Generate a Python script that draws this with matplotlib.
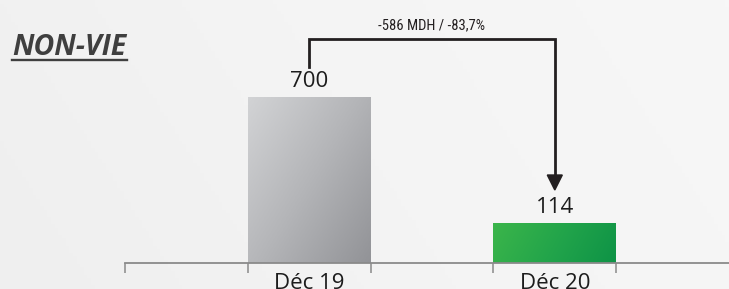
import numpy as np
import matplotlib
matplotlib.use("Agg")
import matplotlib.pyplot as plt
from matplotlib.patches import Polygon
from matplotlib.colors import LinearSegmentedColormap
from matplotlib import font_manager as fm

# ---------------- data ----------------
title = "NON-VIE"
slots = ["", "Déc 19", "", "Déc 20", ""]      # category slots on the x axis
bar_slots = [1, 3]
values = [700, 114]
unit = "MDH"
axis_base = -72                                # value at the axis line

W, H, DPI = 729, 289, 100
fig = plt.figure(figsize=(W / DPI, H / DPI), dpi=DPI)

# background gradient
bg = fig.add_axes([0, 0, 1, 1], zorder=-10)
bg.set_axis_off()
gx = np.linspace(0, 1, 200)
gy = np.linspace(0, 1, 80)
GX, GY = np.meshgrid(gx, gy)
bgcm = LinearSegmentedColormap.from_list("bg", ["#efefef", "#f4f4f4", "#f7f7f7"])
bg.imshow((GX * 0.8 + (1 - GY) * 0.2), cmap=bgcm, aspect="auto", extent=[0, 1, 0, 1])

# main axes (pixel placement)
ax_left, ax_right, ax_axis_y = 125, 739, 263
ax = fig.add_axes([ax_left / W, (H - ax_axis_y) / H, (ax_right - ax_left) / W, ax_axis_y / H])
ax.patch.set_alpha(0)
px_per_unit = 166 / (values[0] - axis_base)
ymax = axis_base + ax_axis_y / px_per_unit
ax.set_xlim(-0.5, len(slots) - 0.5)
ax.set_ylim(axis_base, ymax)

for s in ["top", "right", "left"]:
    ax.spines[s].set_visible(False)
ax.spines["bottom"].set_color("#8a8a8a")
ax.spines["bottom"].set_linewidth(1.3)
ax.yaxis.set_visible(False)

ax.set_xticks(range(len(slots)))
ax.set_xticklabels(slots, fontsize=16, family="Open Sans", color="#1c1c1c")
ax.tick_params(axis="x", which="major", length=0, pad=7.5)
ax.set_xticks(np.arange(-0.5, len(slots)), minor=True)
ax.tick_params(axis="x", which="minor", length=7, width=1.1, color="#8a8a8a")

# bars with gradient fill
grey_cm = LinearSegmentedColormap.from_list("g", ["#d2d3d5", "#b4b5b8", "#929397"])
green_cm = LinearSegmentedColormap.from_list("gr", ["#3bb54a", "#23a54b", "#0e9346"])
cmaps = [grey_cm, green_cm]
diag = [(0.55, 0.45), (0.85, 0.15)]
bars = ax.bar(bar_slots, [v - axis_base for v in values], bottom=axis_base,
              width=1.0, color="none", edgecolor="none")
for b, cm, (wx, wy) in zip(bars, cmaps, diag):
    x0, y0 = b.get_x(), b.get_y()
    w, h = b.get_width(), b.get_height()
    u = np.linspace(0, 1, 120)
    v = np.linspace(0, 1, 120)
    U, V = np.meshgrid(u, v)
    grad = U * wx + V * wy   # V=0 is top row
    im = ax.imshow(grad, cmap=cm, aspect="auto", extent=[x0, x0 + w, y0, y0 + h],
                   origin="upper", zorder=2)
    im.set_clip_path(b)

# value labels
for xs, v in zip(bar_slots, values):
    ax.annotate(f"{v}", (xs, v), xytext=(0, 5), textcoords="offset pixels",
                ha="center", va="bottom", fontsize=16, family="Open Sans", color="#1c1c1c")

# bracket with arrow (drawn in data space, offsets in pixels)
def px_to_data(xd, yd, dy_px):
    X, Y = ax.transData.transform((xd, yd))
    return ax.transData.inverted().transform((X, Y + dy_px))

top_off = 58.5
p_left_bot = px_to_data(bar_slots[0], values[0], 30)
p_left_top = px_to_data(bar_slots[0], values[0], top_off)
p_right_top = (bar_slots[1], p_left_top[1])
tip = px_to_data(bar_slots[1], values[1], 33)
head_base = px_to_data(bar_slots[1], values[1], 48)
lc = "#231f20"
ax.plot([p_left_bot[0], p_left_top[0], p_right_top[0], head_base[0]],
        [p_left_bot[1], p_left_top[1], p_right_top[1], head_base[1] + 0.5],
        color=lc, lw=2.0, solid_joinstyle="miter", clip_on=False, zorder=3)
Xt, Yt = ax.transData.transform(tip)
hw = 7.5
tri_px = [(Xt, Yt), (Xt - hw, Yt + 15), (Xt + hw, Yt + 15)]
tri = ax.transData.inverted().transform(tri_px)
ax.add_patch(Polygon(tri, closed=True, color=lc, clip_on=False, zorder=3))

# narrow font for the change annotation
names = {f.name for f in fm.fontManager.ttflist}
cond_props = dict(family="Roboto")
for cand in ["Liberation Sans Narrow", "DejaVu Sans Condensed", "Roboto Condensed"]:
    if cand in names:
        cond_props = dict(family=cand)
        break

diff = values[1] - values[0]
pct = diff / values[0] * 100
txt = f"{diff} {unit} / {pct:.1f}%".replace(".", ",")
mid = px_to_data((bar_slots[0] + bar_slots[1]) / 2, p_left_top[1], 9.5)
t = ax.text(mid[0], mid[1], txt, ha="center", va="baseline", fontsize=10.5,
            color="#231f20", zorder=3, **cond_props)
r = fig.canvas.get_renderer()
wpx = t.get_window_extent(r).width
t.set_fontsize(10.5 * min(1.0, 110 / wpx))

# title with underline
fig.text(12 / W, (H - 55) / H, title, fontsize=20.5, family="Open Sans",
         fontweight="bold", fontstyle="italic", color="#3f3f3f", va="baseline", ha="left")
fig.add_artist(plt.Line2D([12 / W, 127 / W], [(H - 59.5) / H] * 2, color="#3f3f3f", lw=1.7))

fig.savefig("out.png", dpi=DPI)
